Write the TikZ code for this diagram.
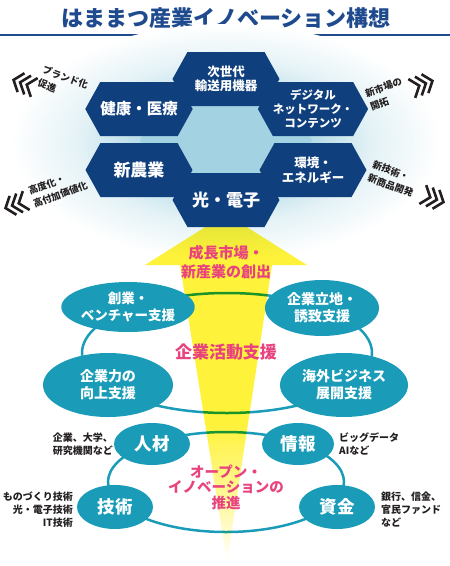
\documentclass[tikz,border=0pt]{standalone}
\usepackage{fontspec}
\setmainfont{Noto Sans CJK JP}
\usepackage{tikz}
\usetikzlibrary{shapes.geometric,shapes.symbols}
\definecolor{TitleBlue}{HTML}{1F4B8E}
\definecolor{NavyHex}{HTML}{0F3F7C}
\definecolor{GlowBlue}{HTML}{A3D3E2}
\definecolor{TealEll}{HTML}{1A9CB8}
\definecolor{PinkText}{HTML}{E8427F}
\definecolor{ArrowYellow}{HTML}{FFF23A}
\definecolor{TextDark}{HTML}{231F20}
\pgfdeclareradialshading{glow}{\pgfpoint{0bp}{0bp}}{color(0bp)=(GlowBlue); color(9bp)=(GlowBlue!85); color(17bp)=(GlowBlue!30); color(25bp)=(white); color(50bp)=(white)}
\pgfdeclareverticalshading{arrowfade}{100bp}{color(0bp)=(white); color(25bp)=(white); color(33bp)=(ArrowYellow!45); color(45bp)=(ArrowYellow); color(100bp)=(ArrowYellow)}
\newcommand{\fs}[2]{\fontsize{#1}{#2}\selectfont}

\begin{document}
\begin{tikzpicture}[x=1pt,y=-1pt,
      every node/.style={font=\bfseries},
      HX/.style={signal, signal to=west and east, signal pointer angle=122,
          fill=NavyHex, minimum width=107pt, minimum height=54pt,
          inner sep=0pt, text=white, align=center},
      EL/.style={ellipse, fill=TealEll, inner sep=0pt, text=white, align=center},
      RG/.style={ellipse, draw=TealEll, line width=2.5pt, inner sep=0pt},
      PK/.style={text=PinkText, align=center},
      SM/.style={font=\bfseries\fs{10}{13}, text=TextDark, inner sep=0pt},
      TL/.style={SM, font=\bfseries\fs{9.5}{14}, align=left},
      CH/.style={draw=TextDark, line width=2.6pt},
    ]
    \useasboundingbox (0,0) rectangle (450,566);

    % Title
    \node[font=\bfseries\fs{22}{24}, text=TitleBlue] (title) at (226,18)
    {はままつ産業イノベーション構想};
    \draw[TitleBlue, line width=2pt] (0,34.5) -- (450,34.5);

    % Glow
    \shade[shading=glow] (226,142) ellipse [x radius=215, y radius=118];
    \fill[GlowBlue] (170,95) -- (282,95) -- (312,140) -- (282,188)
    -- (170,188) -- (140,140) -- cycle;

    % Rings
    \node[RG, minimum width=290pt, minimum height=120pt] (ring1) at (227,353) {};
    \node[RG, minimum width=236pt, minimum height=100pt] (ring2) at (226,482) {};

    % Arrow
    \begin{scope}[blend mode=multiply]
      \shade[shading=arrowfade] (226,214) -- (307,265) -- (272,265) -- (227,562)
      -- (180,265) -- (145,265) -- cycle;
    \end{scope}

    % Hexagons
    \node[HX, font=\bfseries\fs{12.5}{14}] (h1) at (226,79) {次世代\\輸送用機器};
    \node[HX, font=\bfseries\fs{15.5}{17}] (h2) at (139,109) {健康・医療};
    \node[HX, font=\bfseries\fs{11.5}{14}] (h3) at (313,109) {デジタル\\ネットワーク・\\コンテンツ};
    \node[HX, font=\bfseries\fs{17}{19}] (h4) at (139,170) {新農業};
    \node[HX, font=\bfseries\fs{12.5}{15}] (h5) at (313,170) {環境・\\エネルギー};
    \node[HX, font=\bfseries\fs{17}{19}] (h6) at (226,200) {光・電子};

    % Chevrons
    \foreach \cx/\cy/\ang/\dir in {22/83/-20/1, 14/205/20/1, 424/84/20/-1, 435/199/-20/-1}
    \foreach \i in {0,1,2}
    \draw[CH, shift={(\cx,\cy)}, rotate=\ang]
    ({\dir*(-9+\i*7)+\dir*8},-10) -- ({\dir*(-9+\i*7)},0) -- ({\dir*(-9+\i*7)+\dir*8},10);

    \node[TL, rotate=-20] (l1) at (63,84) {ブランド化\\促進};
    \node[TL, rotate=20] (l2) at (58,188) {高度化・\\高付加価値化};
    \node[TL, rotate=20] (l3) at (386,94) {新市場の\\開拓};
    \node[TL, rotate=-20] (l4) at (393,179) {新技術・\\新商品開発};

    % Growth text
    \node[PK, font=\bfseries\fs{15}{19}] (grow) at (226,262) {成長市場・\\新産業の創出};

    % Support ellipses
    \node[EL, minimum width=116pt, minimum height=50pt, font=\bfseries\fs{13.5}{17}] (e1) at (128,307) {創業・\\ベンチャー支援};
    \node[EL, minimum width=114pt, minimum height=56pt, font=\bfseries\fs{14}{17}] (e2) at (322,308) {企業立地・\\誘致支援};
    \node[EL, minimum width=130pt, minimum height=64pt, font=\bfseries\fs{14}{17}] (e3) at (108,385) {企業力の\\向上支援};
    \node[EL, minimum width=128pt, minimum height=64pt, font=\bfseries\fs{14}{17}] (e4) at (344,385) {海外ビジネス\\展開支援};
    \node[PK, font=\bfseries\fs{17}{19}] (supp) at (226,352) {企業活動支援};

    % Open innovation
    \node[EL, minimum width=76pt, minimum height=42pt, font=\bfseries\fs{17.5}{19}] (b1) at (152,444) {人材};
    \node[EL, minimum width=72pt, minimum height=42pt, font=\bfseries\fs{17.5}{19}] (b2) at (298,444) {情報};
    \node[EL, minimum width=76pt, minimum height=44pt, font=\bfseries\fs{17.5}{19}] (b3) at (115,507) {技術};
    \node[EL, minimum width=76pt, minimum height=44pt, font=\bfseries\fs{17.5}{19}] (b4) at (337,507) {資金};
    \node[PK, font=\bfseries\fs{14.5}{15.5}] (open) at (226,487) {オープン・\\イノベーションの\\推進};

    \node[SM, anchor=east, align=right] (s1) at (113,444) {企業、大学、\\研究機関など};
    \node[SM, anchor=west, align=left] (s2) at (339,444) {ビッグデータ\\AIなど};
    \node[SM, anchor=east, align=right] (s3) at (73,510) {ものづくり技術\\光・電子技術\\IT技術};
    \node[SM, anchor=west, align=left] (s4) at (381,510) {銀行、信金、\\官民ファンド\\など};
  \end{tikzpicture}
\end{document}
